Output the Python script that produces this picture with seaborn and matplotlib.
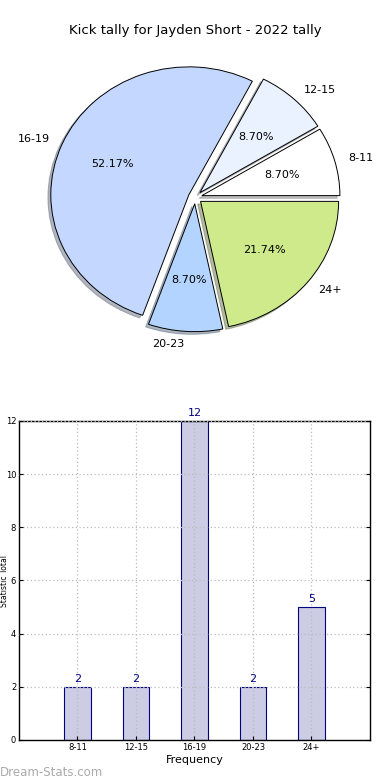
import numpy as np
import matplotlib
matplotlib.use("Agg")
import matplotlib.pyplot as plt
import seaborn as sns
import pandas as pd

categories = ['8-11', '12-15', '16-19', '20-23', '24+']
counts = [2, 2, 12, 2, 5]
pie_colors = ['#ffffff', '#eaf1ff', '#c4d8ff', '#b3d4ff', '#ceea8a']
yticks = [0, 2, 4, 6, 8, 10, 12]

sns.set_style("white")
plt.rcParams['font.family'] = ['DejaVu Sans']
plt.rcParams['text.color'] = 'black'
plt.rcParams['xtick.color'] = 'black'
plt.rcParams['ytick.color'] = 'black'
plt.rcParams['axes.labelcolor'] = 'black'

fig = plt.figure(figsize=(3.9, 7.8), dpi=100)
fig.patch.set_facecolor('white')

# pie chart (top)
ax1 = fig.add_axes([0.058, 0.542, 0.885, 0.41])
wedges, texts, autotexts = ax1.pie(
    counts, labels=categories, colors=pie_colors, explode=[0.05] * len(counts),
    autopct='%1.2f%%', shadow={'ox': -0.015, 'oy': -0.015, 'shade': 0.5},
    startangle=0,
    wedgeprops={'edgecolor': 'black', 'linewidth': 0.7},
    textprops={'fontsize': 8, 'color': 'black'})
ax1.set_aspect('auto')
ax1.set_xlim(-1.25, 1.25)
ax1.set_ylim(-1.25, 1.25)
fig.text(0.5, 0.961, 'Kick tally for Jayden Short - 2022 tally',
         ha='center', va='center', fontsize=9.5, color='black')

# bar chart (bottom)
df = pd.DataFrame({'range': categories, 'count': counts})
ax2 = fig.add_axes([0.0487, 0.0513, 0.9, 0.409])
sns.barplot(data=df, x='range', y='count', color='#ccccE4', saturation=1,
            edgecolor='#000080', linewidth=0.8, width=0.45, ax=ax2)
ax2.set_xlim(-1, 5)
ax2.set_ylim(0, 12)
ax2.set_yticks(yticks)
ax2.grid(True, linestyle=(0, (1, 2)), color='#bbbbbb', linewidth=0.9)
ax2.set_axisbelow(False)
for sp in ax2.spines.values():
    sp.set_color('black')
    sp.set_linewidth(1)
ax2.tick_params(axis='both', labelsize=6, direction='in', length=3, pad=2,
                right=True, top=False, left=True, bottom=True)
for i, v in enumerate(counts):
    ax2.text(i, v + 0.1, str(v), ha='center', va='bottom', fontsize=8, color='#000080')
ax2.set_xlabel('Frequency', fontsize=8, labelpad=2)
ax2.set_ylabel('')
fig.text(4.5 / 390, 0.2555, 'Statistic Total', rotation=90, fontsize=5.5,
         ha='center', va='center')

fig.text(0.0, 0.01, 'Dream-Stats.com', fontsize=8.5, color='#aaaaaa',
         ha='left', va='center')

fig.savefig('out.png', dpi=100)
